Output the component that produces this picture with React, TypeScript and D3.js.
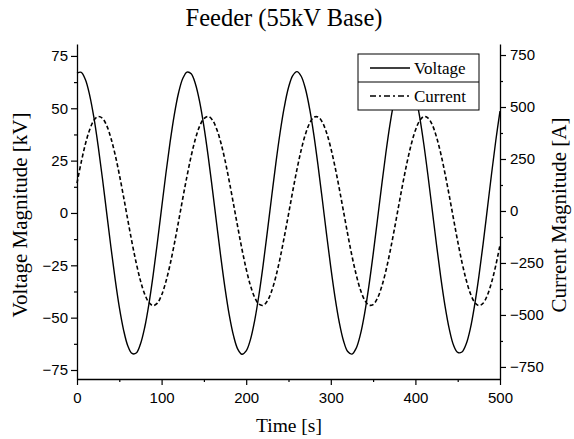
import * as d3 from "d3";
import { useEffect, useRef } from "react";

const W = 574;
const H = 439;

// time axis samples [s]
const time = d3.range(0, 501, 5);

// voltage magnitude [kV], every 5 s
const voltage = [
  66.8, 67.2, 63.6, 56.2, 45.5, 32.0, 16.7, 0.3, -16.0, -31.4,
  -45.0, -55.8, -63.4, -67.1, -66.9, -62.6, -54.7, -43.5, -29.7, -14.1,
  2.3, 18.6, 33.7, 46.9, 57.3, 64.2, 67.3, 66.5, 61.6, 53.1,
  41.4, 27.3, 11.5, -4.9, -21.1, -36.0, -48.8, -58.6, -65.0, -67.5,
  -65.9, -60.5, -51.4, -39.3, -24.9, -8.9, 7.5, 23.6, 38.2, 50.5,
  59.9, 65.6, 67.5, 65.3, 59.3, 49.7, 37.2, 22.4, 6.3, -10.2,
  -26.0, -40.3, -52.2, -61.0, -66.2, -67.4, -64.6, -58.0, -47.9, -34.9,
  -19.9, -3.7, 12.7, 28.4, 42.4, 53.9, 62.1, 66.7, 67.2, 63.8,
  56.6, 46.0, 32.7, 17.4, 1.1, -15.3, -30.8, -44.4, -55.4, -63.1,
  -66.6, -66.4, -62.6, -55.1, -44.0, -30.4, -14.9, 1.8, 18.6, 34.5,
  48.6,
];

// current magnitude [A], every 5 s
const current = [
  134, 235, 323, 391, 436, 454, 446, 412, 352, 272,
  176, 69, -42, -151, -250, -335, -400, -440, -455, -443,
  -404, -341, -258, -159, -51, 60, 167, 265, 347, 408,
  444, 455, 438, 395, 329, 243, 142, 33, -77, -184,
  -279, -358, -415, -448, -454, -433, -386, -316, -228, -125,
  -16, 95, 200, 293, 369, 422, 451, 452, 427, 376,
  303, 212, 108, -2, -112, -216, -306, -379, -428, -453,
  -450, -421, -366, -290, -196, -91, 20, 129, 231, 319,
  388, 434, 454, 447, 414, 355, 276, 180, 74, -37,
  -146, -246, -331, -397, -439, -455, -444, -406, -344, -262,
  -164,
];

const timeTicks = [0, 100, 200, 300, 400, 500];
const voltTicks = [-75, -50, -25, 0, 25, 50, 75];
const currTicks = [-750, -500, -250, 0, 250, 500, 750];

const seriesNames = ["Voltage", "Current"];

const App = () => {
  const svgRef = useRef<SVGSVGElement>(null);

  useEffect(() => {
    const svg = d3.select(svgRef.current).html("");

    const left = 77;
    const right = 500;
    const top = 44;
    const bottom = 379;

    const x = d3.scaleLinear().domain([0, 500]).range([left, right]);
    const yV = d3.scaleLinear().domain([-79.3, 80.7]).range([bottom, top]);
    const yI = d3.scaleLinear().domain([-808, 803]).range([bottom, top]);

    const sans = "'Liberation Sans', Arial, sans-serif";
    const serif = "'Liberation Serif', 'Times New Roman', serif";

    // curves
    const lineV = d3
      .line<number>()
      .x((_, i) => x(time[i]))
      .y((d) => yV(d))
      .curve(d3.curveCatmullRom);
    const lineI = d3
      .line<number>()
      .x((_, i) => x(time[i]))
      .y((d) => yI(d))
      .curve(d3.curveCatmullRom);

    svg
      .append("path")
      .attr("d", lineV(voltage))
      .attr("fill", "none")
      .attr("stroke", "#000")
      .attr("stroke-width", 1.4);

    svg
      .append("path")
      .attr("d", lineI(current))
      .attr("fill", "none")
      .attr("stroke", "#000")
      .attr("stroke-width", 1.6)
      .attr("stroke-dasharray", "4,2.5");

    // axes
    const styleAxis = (g: any) => {
      g.select(".domain").attr("stroke", "#000").attr("stroke-width", 1.3);
      g.selectAll(".tick line").attr("stroke", "#000").attr("stroke-width", 1.2);
      g.selectAll(".tick text")
        .attr("font-family", sans)
        .attr("font-size", 15)
        .attr("fill", "#000");
    };
    const minor = (g: any) => {
      g.select(".domain").remove();
      g.selectAll(".tick line").attr("stroke", "#000").attr("stroke-width", 1.2);
    };

    const gx = svg
      .append("g")
      .attr("transform", `translate(0,${bottom})`)
      .call(d3.axisBottom(x).tickValues(timeTicks).tickSize(6).tickSizeOuter(0).tickPadding(4));
    styleAxis(gx);
    gx.selectAll(".tick text").attr("dy", "0.95em");
    svg
      .append("g")
      .attr("transform", `translate(0,${bottom})`)
      .call(d3.axisBottom(x).tickValues(d3.range(50, 500, 100)).tickSize(3).tickFormat(() => ""))
      .call(minor);

    const gl = svg
      .append("g")
      .attr("transform", `translate(${left},0)`)
      .call(d3.axisLeft(yV).tickValues(voltTicks).tickSize(6).tickSizeOuter(0).tickPadding(3));
    styleAxis(gl);
    svg
      .append("g")
      .attr("transform", `translate(${left},0)`)
      .call(d3.axisLeft(yV).tickValues(d3.range(-62.5, 75, 25)).tickSize(3).tickFormat(() => ""))
      .call(minor);

    const gr = svg
      .append("g")
      .attr("transform", `translate(${right},0)`)
      .call(d3.axisRight(yI).tickValues(currTicks).tickSize(6).tickSizeOuter(0).tickPadding(4));
    styleAxis(gr);
    svg
      .append("g")
      .attr("transform", `translate(${right},0)`)
      .call(d3.axisRight(yI).tickValues(d3.range(-625, 750, 250)).tickSize(3).tickFormat(() => ""))
      .call(minor);

    // titles
    svg
      .append("text")
      .attr("x", 284)
      .attr("y", 26)
      .attr("text-anchor", "middle")
      .attr("font-family", serif)
      .attr("font-size", 24.5)
      .text("Feeder (55kV Base)");

    svg
      .append("text")
      .attr("x", 289)
      .attr("y", 432)
      .attr("text-anchor", "middle")
      .attr("font-family", serif)
      .attr("font-size", 19.5)
      .text("Time [s]");

    svg
      .append("text")
      .attr("transform", `translate(27,215) rotate(-90)`)
      .attr("text-anchor", "middle")
      .attr("font-family", serif)
      .attr("font-size", 21)
      .text("Voltage Magnitude [kV]");

    svg
      .append("text")
      .attr("transform", `translate(566,215) rotate(-90)`)
      .attr("text-anchor", "middle")
      .attr("font-family", serif)
      .attr("font-size", 21)
      .text("Current Magnitude [A]");

    // legend
    const lg = svg.append("g").attr("transform", "translate(358,54)");
    lg.append("rect")
      .attr("width", 121)
      .attr("height", 56)
      .attr("fill", "#fff")
      .attr("stroke", "#000")
      .attr("stroke-width", 1);
    lg.append("line")
      .attr("x1", 0)
      .attr("x2", 121)
      .attr("y1", 28)
      .attr("y2", 28)
      .attr("stroke", "#000")
      .attr("stroke-width", 1);
    seriesNames.forEach((name, i) => {
      const cy = 14 + i * 28;
      lg.append("line")
        .attr("x1", 12)
        .attr("x2", 52)
        .attr("y1", cy)
        .attr("y2", cy)
        .attr("stroke", "#000")
        .attr("stroke-width", i === 0 ? 1.3 : 1.6)
        .attr("stroke-dasharray", i === 0 ? null : "6,3,2,3");
      lg.append("text")
        .attr("x", 56)
        .attr("y", cy + 6)
        .attr("font-family", serif)
        .attr("font-size", 17)
        .text(name);
    });
  }, []);

  return (
    <svg
      ref={svgRef}
      width={W}
      height={H}
      style={{ position: "absolute", left: 0, top: 0, background: "#fff" }}
    />
  );
};

export default App;
